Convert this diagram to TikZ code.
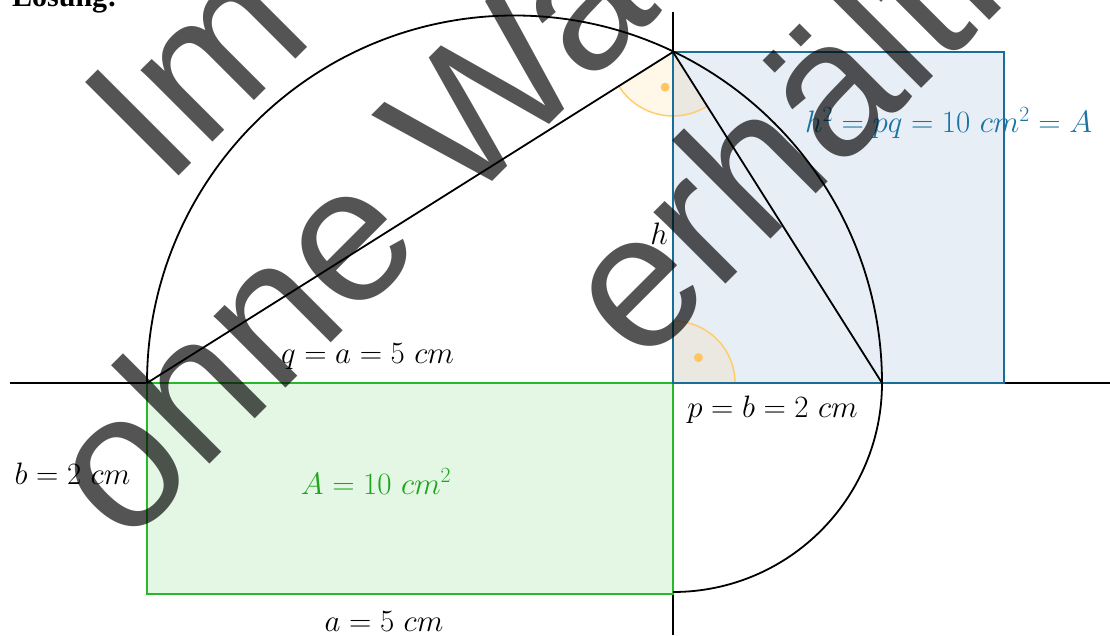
\RequirePackage{fix-cm}
\documentclass[tikz,border=0pt]{standalone}
\usepackage{fontspec}
\newfontfamily\wmfont{Liberation Sans}
\newfontfamily\serfont{Liberation Serif}
\definecolor{grstroke}{RGB}{40,185,40}
\definecolor{grfill}{RGB}{228,247,228}
\definecolor{grtext}{RGB}{30,165,30}
\definecolor{blstroke}{RGB}{24,110,150}
\definecolor{blfill}{RGB}{232,238,246}
\definecolor{bltext}{RGB}{25,115,165}
\definecolor{orstroke}{RGB}{255,205,110}
\definecolor{orfill}{RGB}{255,195,70}
\begin{document}
\begin{tikzpicture}[x=1pt,y=1pt,
  lbl/.style={inner sep=0pt,font=\fontsize{31}{36}\selectfont},
  fig/.style={line width=1.8pt,black},
  axis/.style={line width=1.3pt,black},
  wm/.style={inner sep=0pt,rotate=45,anchor=base west,text=black,text opacity=0.67,font=\fontsize{192}{230}\selectfont\wmfont},
  angfill/.style={fill=orfill,fill opacity=0.12},
  angline/.style={draw=orstroke,line width=1.5pt},
  angdot/.style={fill=orstroke!90!orange}]
\useasboundingbox (0,0) rectangle (1110,635);
\clip (0,0) rectangle (1110,635);
% points
\coordinate (A) at (147,252);
\coordinate (F) at (673,252);
\coordinate (B) at (882,252);
\coordinate (C) at (673,583);
\coordinate (M) at (514.5,252);
\coordinate (SQ) at (1004,583);
\coordinate (GR) at (673,41);
\coordinate (XL) at (10,252);
\coordinate (XR) at (1110,252);
\coordinate (YT) at (673,623);
\coordinate (YB) at (673,0);
% fills
\fill[grfill] (A) rectangle (GR);
\fill[blfill] (F) rectangle (SQ);
% angle marks
\fill[angfill] (C) -- ++(212.2:64) arc[start angle=212.2,end angle=302.4,radius=64] -- cycle;
\draw[angline] (C) ++(212.2:64) arc[start angle=212.2,end angle=302.4,radius=64];
\fill[angdot] (C) ++(257.3:36) circle (4.5);
\fill[angfill] (F) -- ++(0:62) arc[start angle=0,end angle=90,radius=62] -- cycle;
\draw[angline] (F) ++(0:62) arc[start angle=0,end angle=90,radius=62];
\fill[angdot] (F) ++(45:36) circle (4.5);
% axes
\draw[axis] (XL) -- (XR);
\draw[axis] (YT) -- (YB);
% rect strokes
\draw[grstroke,line width=2.2pt] (A) rectangle (GR);
\draw[blstroke,line width=2.2pt] (F) rectangle (SQ);
% figure
\draw[fig] (B) arc[start angle=0,end angle=180,radius=367.5];
\draw[fig] (A) -- (C) -- (B);
\draw[fig] (B) arc[start angle=0,end angle=-90,radius=209];
% labels
\node[lbl,anchor=base] (lq) at (367.5,271) {$q = a = 5\ cm$};
\node[lbl,anchor=base] (la) at (384,4) {$a = 5\ cm$};
\node[lbl,anchor=base] (lb) at (72.5,151) {$b = 2\ cm$};
\node[lbl,anchor=base,text=grtext] (lA) at (376,141) {$A = 10\ cm^2$};
\node[lbl,anchor=base] (lp) at (772.5,218) {$p = b = 2\ cm$};
\node[lbl,anchor=base east] (lh) at (668,390) {$h$};
\node[lbl,anchor=base west,text=bltext] (lh2) at (805,502) {$h^2 = pq = 10\ cm^2 = A$};
\node[inner sep=0pt,anchor=base west,font=\fontsize{30}{36}\selectfont\serfont\bfseries] (lsg) at (12,628) {Lösung:};
% watermark
\node[wm] (w1) at (166,446) {Im};
\node[wm] (w2) at (125,86) {ohne Wa};
\node[wm] (w3) at (641,266) {erhältl};
\end{tikzpicture}
\end{document}
